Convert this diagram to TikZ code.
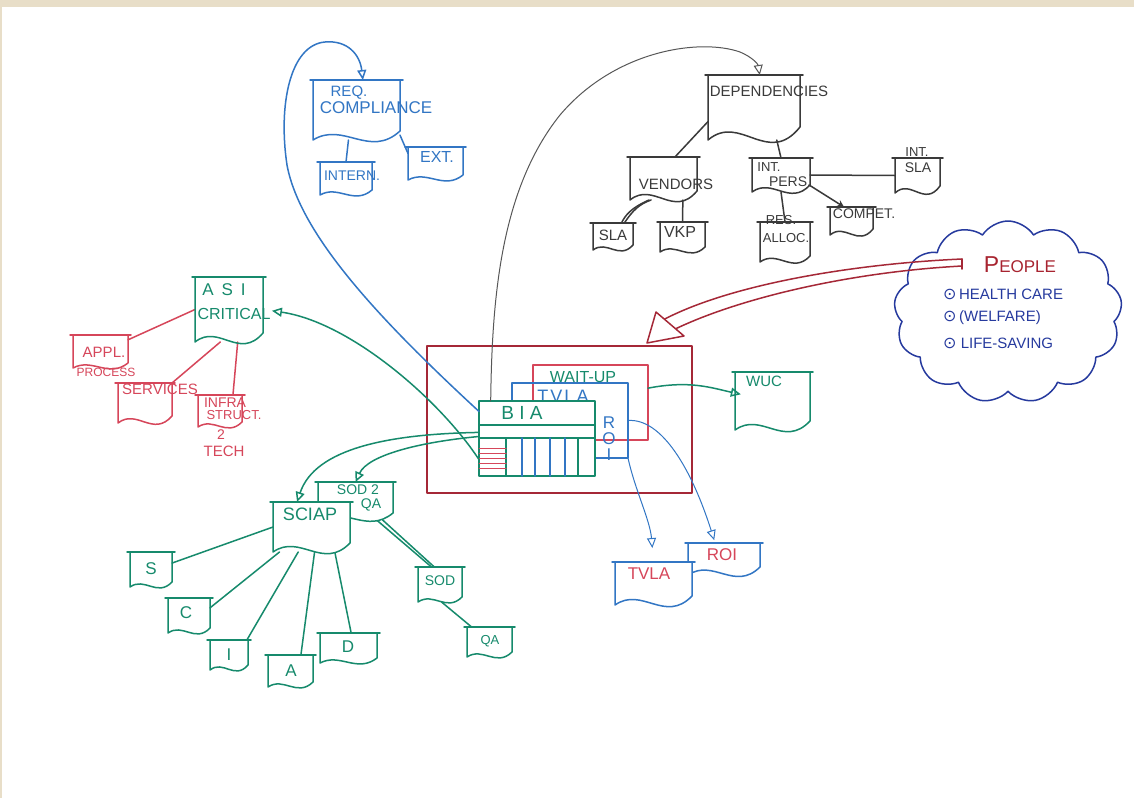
\documentclass[tikz,border=0pt]{standalone}
\usepackage{fontspec}
\setmainfont{Liberation Sans}
\newfontfamily\symfont{DejaVu Sans}
\usetikzlibrary{arrows.meta,calc,shapes.symbols}
\definecolor{penblue}{RGB}{50,118,196}
\definecolor{pengreen}{RGB}{22,138,108}
\definecolor{penred}{RGB}{214,70,90}
\definecolor{boxred}{RGB}{165,40,55}
\definecolor{pengray}{RGB}{58,58,58}
\definecolor{cloudblue}{RGB}{38,58,158}
\definecolor{peoplered}{RGB}{168,36,48}
\definecolor{bandbeige}{RGB}{232,222,200}
\newcommand\docnode[5]{\node[docbox,minimum width={(#4-#2)*1pt},minimum height={(#5-#3)*1pt}] (#1) at ({(#2+#4)/2},{(#3+#5)/2}) {};}
\newcommand\docdraw[3]{%
  \draw[pen,#2] (#1.north west) -- (#1.south west)
    .. controls ($(#1.south west)!0.35!(#1.south east)+(0,-2.1*#3)$)
    and ($(#1.south west)!0.65!(#1.south east)+(0,2.1*#3)$)
    .. ($(#1.south east)+(0,-#3)$) -- (#1.north east);
  \draw[pen,#2,fill=none] ($(#1.north west)+(-3,0)$) -- ($(#1.north east)+(3,0)$);
}
\newcommand\odotmark{{\symfont\fontsize{16}{16}\selectfont ⊙}}
\begin{document}
\begin{tikzpicture}[x=1pt,y=-1pt,
  pen/.style={line width=1.5pt,line cap=round,line join=round},
  thinpen/.style={line width=1pt,line cap=round,line join=round},
  docbox/.style={rectangle,inner sep=0pt,outer sep=0pt,draw=none},
  rbox/.style={rectangle,inner sep=0pt,outer sep=0pt,pen},
  tx/.style={inner sep=0pt,align=center},
  fs/.style={font=\fontsize{#1}{#1}\selectfont},
  opentip/.style={-{Triangle[open,length=10pt,width=9pt]}}]
\useasboundingbox (0,0) rectangle (1134,798);
\fill[white] (0,0) rectangle (1134,798);
\fill[bandbeige] (0,0) rectangle (1134,7);
\fill[bandbeige] (0,0) rectangle (1.5,798);

% ---------- central block ----------
\node[rbox,draw=boxred,minimum width=265,minimum height=147] (outer) at (559.5,419.5) {};
\node[rbox,draw=penred,minimum width=115,minimum height=75] (waitup) at (590.5,402.5) {};
\node[rbox,draw=penblue,minimum width=116,minimum height=75] (tvla) at (570,420.5) {};
\node[tx,fs=16,text=pengreen] (waitupt) at (583,377) {WAIT-UP};
\node[tx,fs=18,text=penblue] (tvlat) at (563,396) {T\hspace{2pt}V\hspace{2pt}L\hspace{2pt}A};
\node[tx,fs=17,text=penblue] (roit) at (609,439) {R\\[-1pt]O\\[-1pt]I};
\node[rbox,draw=pengreen,fill=white,minimum width=116,minimum height=75] (bia) at (537,438.5) {};
\draw[pen,pengreen] ($(bia.north west)+(0,24)$) -- ($(bia.north east)+(0,24)$);
\draw[pen,pengreen] ($(bia.north west)+(0,37)$) -- ($(bia.north east)+(0,37)$);
\foreach \dx/\cl in {27/pengreen,43/penblue,56/penblue,71/penblue,86/penblue,99/pengreen}
  \draw[pen,\cl] ($(bia.north west)+(\dx,37)$) -- ($(bia.south west)+(\dx,0)$);
\foreach \dy in {47,52,57,62,67}
  \draw[thinpen,penred] ($(bia.north west)+(0,\dy)$) -- ($(bia.north west)+(27,\dy)$);
\node[tx,fs=19,text=pengreen] (biat) at (522,413) {B I A};

% ---------- blue group ----------
\docnode{req}{313}{80}{400}{140}
\docnode{intern}{320}{162}{372}{195}
\docnode{ext}{408}{147}{463}{180}
\draw[pen,penblue] (req.255) -- (intern.north);
\draw[pen,penblue] (req.330) -- (ext.160);
\docdraw{req}{penblue}{9}
\docdraw{intern}{penblue}{5}
\docdraw{ext}{penblue}{5}
\node[tx,fs=15,text=penblue] (reqt1) at (349,93) {REQ.};
\node[tx,fs=17,text=penblue] (reqt2) at (376,108) {COMPLIANCE};
\node[tx,fs=14,text=penblue] (internt) at (352,176) {INTERN.};
\node[tx,fs=16,text=penblue] (extt) at (437,157) {EXT.};
\draw[pen,penblue,opentip] (bia.155) .. controls (380,320) and (300,235) .. (287,165)
  .. controls (278,105) and (290,45) .. (325,42) .. controls (348,40) and (360,55) .. (req.78);

% ---------- gray group ----------
\docnode{dep}{708}{75}{800}{140}
\docnode{vend}{630}{157}{697}{200}
\docnode{ipers}{752}{158}{810}{192}
\docnode{isla}{895}{158}{940}{193}
\docnode{vsla}{593}{223}{633}{250}
\docnode{vkp}{660}{222}{705}{252}
\docnode{ralloc}{760}{222}{810}{262}
\docnode{compet}{830}{207}{873}{235}
\draw[pen,pengray] (dep.197) -- (vend.62);
\draw[pen,pengray] (dep.305) -- (ipers.north);
\draw[pen,pengray] (ipers.east) -- (isla.west);
\draw[pen,pengray,-{Stealth[length=7pt,width=7pt]}] (ipers.340) -- (compet.118);
\draw[pen,pengray] (ipers.south) -- (ralloc.north);
\draw[pen,pengray] (vend.240) .. controls +(-12,4) and +(8,-12) .. (vsla.50);
\draw[pen,pengray] (vend.236) .. controls +(-18,8) and +(4,-8) .. (vsla.58);
\draw[pen,pengray] (vend.312) -- (vkp.north);
\docdraw{dep}{pengray}{13}
\docdraw{vend}{pengray}{9}
\docdraw{ipers}{pengray}{7}
\docdraw{isla}{pengray}{7}
\docdraw{vsla}{pengray}{5}
\docdraw{vkp}{pengray}{5}
\docdraw{ralloc}{pengray}{6}
\docdraw{compet}{pengray}{6}
\node[tx,fs=15,text=pengray] (dept) at (769,91) {DEPENDENCIES};
\node[tx,fs=15,text=pengray] (vendt) at (676,184) {VENDORS};
\node[tx,fs=13,text=pengray] (iperst1) at (769,167) {INT.};
\node[tx,fs=14,text=pengray] (iperst2) at (790,182) {PERS.};
\node[tx,fs=13,text=pengray] (islat1) at (917,152) {INT.};
\node[tx,fs=14,text=pengray] (islat2) at (918,168) {SLA};
\node[tx,fs=15,text=pengray] (vslat) at (613,235) {SLA};
\node[tx,fs=16,text=pengray] (vkpt) at (680,232) {VKP};
\node[tx,fs=13,text=pengray] (rallt1) at (781,220) {RES.};
\node[tx,fs=13,text=pengray] (rallt2) at (786,238) {ALLOC.};
\node[tx,fs=14,text=pengray] (compett) at (864,214) {COMPET.};
\draw[thinpen,pengray!85,opentip] (bia.141) .. controls (492,300) and (500,190) .. (560,115)
  .. controls (615,50) and (700,38) .. (740,52) .. controls (752,57) and (758,64) .. (dep.80);

% ---------- ASI group ----------
\docnode{asi}{195}{277}{263}{342}
\docnode{appl}{73}{335}{128}{368}
\docnode{serv}{118}{383}{172}{423}
\docnode{infra}{198}{395}{242}{427}
\draw[pen,penred] (asi.west) -- (appl.23);
\draw[pen,penred] (asi.255) -- (serv.north east);
\draw[pen,penred] (asi.285) -- (infra.51);
\docdraw{asi}{pengreen}{9}
\docdraw{appl}{penred}{5}
\docdraw{serv}{penred}{7}
\docdraw{infra}{penred}{5}
\node[tx,fs=17,text=pengreen] (asit1) at (224,290) {A\hspace{8pt}S\hspace{8pt}I};
\node[tx,fs=16,text=pengreen] (asit2) at (234,314) {CRITICAL};
\node[tx,fs=15,text=penred] (applt1) at (104,352) {APPL.};
\node[tx,fs=12,text=penred] (applt2) at (106,372) {PROCESS};
\node[tx,fs=15,text=penred] (servt) at (160,389) {SERVICES};
\node[tx,fs=14,text=penred] (infrat1) at (225,403) {INFRA};
\node[tx,fs=13,text=penred] (infrat2) at (234,415) {STRUCT.};
\node[tx,fs=14,text=penred] (infrat3) at (221,435) {2};
\node[tx,fs=15,text=penred] (infrat4) at (224,451) {TECH};
\draw[pen,pengreen,opentip,shorten >=9pt] (bia.200) .. controls (440,400) and (350,322) .. (asi.east);

% ---------- SCIAP group ----------
\docnode{sodqa}{318}{482}{393}{520}
\docnode{sciap}{273}{502}{350}{552}
\docnode{s}{130}{552}{172}{587}
\docnode{c}{168}{598}{210}{633}
\docnode{i}{210}{640}{248}{670}
\docnode{a}{268}{655}{313}{687}
\docnode{d}{320}{633}{377}{663}
\docnode{sod}{418}{567}{462}{602}
\docnode{qa}{467}{627}{512}{657}
\draw[pen,pengreen] (sciap.west) -- (s.17);
\draw[pen,pengreen] (sciap.218) -- (c.20);
\draw[pen,pengreen] (sciap.242) -- (i.40);
\draw[pen,pengreen] (sciap.277) -- (a.57);
\draw[pen,pengreen] (sciap.313) -- (d.80);
\draw[pen,pengreen] (sodqa.325) -- (sod.108);
\draw[pen,pengreen] (sodqa.318) -- (sod.116);
\draw[pen,pengreen] (sod.275) -- (qa.140);
\docdraw{sodqa}{pengreen,fill=white}{7}
\docdraw{sciap}{pengreen,fill=white}{9}
\docdraw{s}{pengreen}{5}
\docdraw{c}{pengreen}{5}
\docdraw{i}{pengreen}{5}
\docdraw{a}{pengreen}{5}
\docdraw{d}{pengreen}{5}
\docdraw{sod}{pengreen}{5}
\docdraw{qa}{pengreen}{5}
\node[tx,fs=14,text=pengreen] (sodqat1) at (358,490) {SOD 2};
\node[tx,fs=14,text=pengreen] (sodqat2) at (371,505) {QA};
\node[tx,fs=18,text=pengreen] (sciapt) at (310,514) {SCIAP};
\node[tx,fs=17,text=pengreen] (st) at (151,569) {S};
\node[tx,fs=17,text=pengreen] (ct) at (186,613) {C};
\node[tx,fs=17,text=pengreen] (it) at (229,655) {I};
\node[tx,fs=17,text=pengreen] (at) at (291,671) {A};
\node[tx,fs=17,text=pengreen] (dt) at (348,647) {D};
\node[tx,fs=14,text=pengreen] (sodt) at (440,581) {SOD};
\node[tx,fs=13,text=pengreen] (qat) at (490,641) {QA};
\draw[pen,pengreen,opentip] (bia.174) .. controls (390,434) and (315,448) .. (sciap.120);
\draw[pen,pengreen,opentip] (bia.178) .. controls (420,442) and (368,455) .. (sodqa.90);

% ---------- WUC ----------
\docnode{wuc}{735}{372}{810}{430}
\draw[pen,pengreen,opentip,shorten >=-6pt] (waitup.14) .. controls (690,380) and (712,388) .. (wuc.168);
\docdraw{wuc}{pengreen}{9}
\node[tx,fs=15,text=pengreen] (wuct) at (764,381) {WUC};

% ---------- TVLA / ROI documents ----------
\docnode{roidoc}{688}{543}{760}{575}
\docnode{tvladoc}{615}{562}{692}{605}
\draw[thinpen,penblue,opentip,shorten >=3pt] (tvla.east) .. controls (662,418) and (692,470) .. (roidoc.119);
\draw[thinpen,penblue,opentip,shorten >=14pt] (tvla.south east) .. controls (635,490) and (650,520) .. (tvladoc.north);
\docdraw{roidoc}{penblue,fill=white}{8}
\docdraw{tvladoc}{penblue,fill=white}{9}
\node[tx,fs=17,text=penred] (roidoct) at (722,555) {ROI};
\node[tx,fs=17,text=penred] (tvladoct) at (649,574) {TVLA};

% ---------- PEOPLE cloud ----------
\node[cloud,draw=cloudblue,pen,cloud puffs=13,cloud puff arc=115,aspect=1.24,
  minimum width=228,minimum height=182,inner sep=0pt] (cloud) at (1008,312) {};
\node[tx,text=peoplered] (peoplet) at (1020,265) {{\fontsize{23}{23}\selectfont P}{\fontsize{17}{17}\selectfont EOPLE}};
\node[tx,fs=15,text=cloudblue,anchor=west] (pp1) at (943,294) {\odotmark\,HEALTH CARE};
\node[tx,fs=15,text=cloudblue,anchor=west] (pp2) at (943,318) {\odotmark\,(WELFARE)};
\node[tx,fs=15,text=cloudblue,anchor=west] (pp3) at (943,343) {\odotmark\ LIFE-SAVING};

% ---------- red double arrow ----------
\coordinate (rs1) at (962,259);
\coordinate (rs2) at (962,266);
\coordinate (rtip) at (647,343);
\coordinate (rb1) at (656,312);
\coordinate (rb2) at (684,336);
\draw[pen,boxred] (rs1) .. controls (850,264) and (730,285) .. ($(rb1)!0.3!(rb2)$);
\draw[pen,boxred] (rs2) .. controls (850,272) and (740,298) .. ($(rb1)!0.7!(rb2)$);
\draw[pen,boxred] (rs1) -- ++(0,10);
\draw[pen,boxred,fill=white] (rtip) -- (rb1) -- (rb2) -- cycle;
\end{tikzpicture}
\end{document}
